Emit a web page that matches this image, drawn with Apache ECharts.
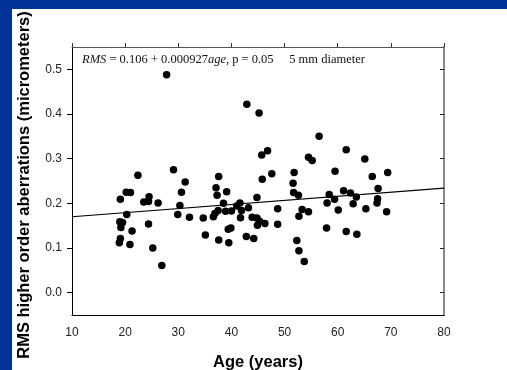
<!DOCTYPE html>
<html>
<head>
<meta charset="utf-8">
<script src="https://cdn.jsdelivr.net/npm/echarts@6/dist/echarts.min.js"></script>
<style>
  html, body { margin: 0; padding: 0; background: #003399; }
  #main {
    position: absolute;
    left: 12px;
    top: 9px;
    width: 495px;
    height: 361px;
    background: #ffffff;
  }
</style>
</head>
<body>
<div id="main"></div>
<script>
// age (years) of each subject
var ages = [27.8, 42.9, 45.2, 56.5, 61.6, 46.8, 45.7, 54.5, 55.2, 65.1,
  29.1, 22.4, 59.5, 51.8, 47.6, 69.4, 37.6, 66.5, 45.8, 31.3,
  51.6, 37.1, 67.6, 20.2, 21.0, 30.6, 39.1, 51.7, 61.1, 62.4,
  52.6, 37.3, 58.4, 24.5, 44.8, 63.5, 19.1, 67.5, 59.4, 23.5,
  24.4, 26.2, 38.5, 41.6, 58.0, 67.4, 62.9, 30.3, 41.0, 43.2,
  48.7, 53.3, 65.3, 60.1, 37.5, 38.9, 40.0, 41.9, 54.5, 69.2,
  36.9, 29.9, 20.3, 32.1, 34.7, 36.6, 41.7, 43.9, 44.8, 52.7,
  19.5, 19.0, 45.3, 46.3, 48.7, 24.4, 44.9, 19.2, 57.9, 39.9,
  39.4, 21.3, 61.6, 63.6, 35.1, 42.8, 44.2, 19.1, 37.6, 52.3,
  18.9, 39.5, 20.9, 25.2, 52.7, 26.9, 53.7]
// RMS higher order aberrations (micrometers)
var rms = [0.488, 0.422, 0.402, 0.350, 0.320, 0.318, 0.308, 0.303, 0.296, 0.299,
  0.275, 0.263, 0.272, 0.269, 0.266, 0.269, 0.260, 0.260, 0.254, 0.248,
  0.245, 0.235, 0.233, 0.225, 0.224, 0.225, 0.226, 0.224, 0.228, 0.223,
  0.218, 0.218, 0.220, 0.215, 0.213, 0.214, 0.209, 0.210, 0.209, 0.203,
  0.204, 0.201, 0.200, 0.201, 0.201, 0.201, 0.199, 0.195, 0.194, 0.190,
  0.188, 0.186, 0.188, 0.185, 0.184, 0.182, 0.183, 0.184, 0.181, 0.181,
  0.177, 0.175, 0.175, 0.169, 0.167, 0.170, 0.168, 0.169, 0.167, 0.171,
  0.157, 0.159, 0.160, 0.155, 0.153, 0.154, 0.151, 0.146, 0.145, 0.145,
  0.142, 0.138, 0.137, 0.131, 0.129, 0.126, 0.121, 0.121, 0.118, 0.117,
  0.112, 0.112, 0.108, 0.100, 0.094, 0.061, 0.070]
// fitted line end points
var fitAge = [10, 80]
var fitRms = [0.170, 0.234]
var yTicks = [0, 0.1, 0.2, 0.3, 0.4, 0.5]

var points = []
for (var i = 0; i < ages.length; i++) {
  points.push([ages[i], rms[i]])
}
var fit = [[fitAge[0], fitRms[0]], [fitAge[1], fitRms[1]]]

var chart = echarts.init(document.getElementById('main'))
var labelStyle = { fontFamily: 'Arial, "Liberation Sans"', fontSize: 12, color: '#222' }
var option = {
  animation: false,
  grid: { left: 60, right: 63, top: 38, bottom: 55 },
  xAxis: [
    {
      type: 'value', position: 'bottom', min: 10, max: 80, interval: 10,
      splitLine: { show: false },
      axisLine: { onZero: false, lineStyle: { color: '#000', width: 1 } },
      axisTick: { show: false },
      axisLabel: Object.assign({ margin: 12 }, labelStyle)
    },
    {
      type: 'value', position: 'top', min: 10, max: 80, interval: 10,
      splitLine: { show: false },
      axisLine: { onZero: false, lineStyle: { color: '#555', width: 1 } },
      axisTick: { show: true, inside: false, length: 4, lineStyle: { color: '#333' } },
      axisLabel: { show: false }
    }
  ],
  yAxis: [
    {
      type: 'value', position: 'left', min: -0.05, max: 0.55,
      splitLine: { show: false },
      axisLine: { show: true, onZero: false, lineStyle: { color: '#000', width: 1 } },
      axisTick: { show: true, inside: false, length: 5, customValues: yTicks, lineStyle: { color: '#000' } },
      axisLabel: Object.assign({
        margin: 10,
        customValues: yTicks,
        formatter: function (v) { return v.toFixed(1) }
      }, labelStyle)
    },
    {
      type: 'value', position: 'right', min: -0.05, max: 0.55,
      splitLine: { show: false },
      axisLine: { show: true, onZero: false, lineStyle: { color: '#888', width: 2 } },
      axisTick: { show: true, inside: true, length: 4, customValues: yTicks, lineStyle: { color: '#222' } },
      axisLabel: { show: false }
    }
  ],
  graphic: [
    {
      type: 'text', x: 12, y: 176, rotation: Math.PI / 2,
      style: {
        text: 'RMS higher order aberrations (micrometers)',
        font: 'bold 16.5px Arial, "Liberation Sans"', fill: '#000',
        textAlign: 'center', textVerticalAlign: 'middle'
      }
    },
    {
      type: 'text', x: 246, y: 353,
      style: {
        text: 'Age (years)',
        font: 'bold 16.5px Arial, "Liberation Sans"', fill: '#000',
        textAlign: 'center', textVerticalAlign: 'middle'
      }
    },
    {
      type: 'text', x: 70, y: 51, z: 10,
      style: {
        text: '{i|RMS} = 0.106 + 0.000927{i|age}, p = 0.05     5 mm diameter',
        fontFamily: '"Liberation Serif", "Times New Roman", serif', fontSize: 12.5, fill: '#111',
        textVerticalAlign: 'middle',
        rich: {
          i: { fontStyle: 'italic', fontFamily: '"Liberation Serif", "Times New Roman", serif', fontSize: 12.5, color: '#111' }
        }
      }
    }
  ],
  series: [
    {
      type: 'line', data: fit, symbol: 'none',
      lineStyle: { color: '#000', width: 1.2 }, z: 1
    },
    {
      type: 'scatter', data: points, symbolSize: 7.5,
      itemStyle: { color: '#000', opacity: 1 }, z: 3
    },
    {
      // empty series so the top and right frame axes are drawn
      type: 'scatter', data: [], xAxisIndex: 1, yAxisIndex: 1
    }
  ]
}
chart.setOption(option)
</script>
</body>
</html>
